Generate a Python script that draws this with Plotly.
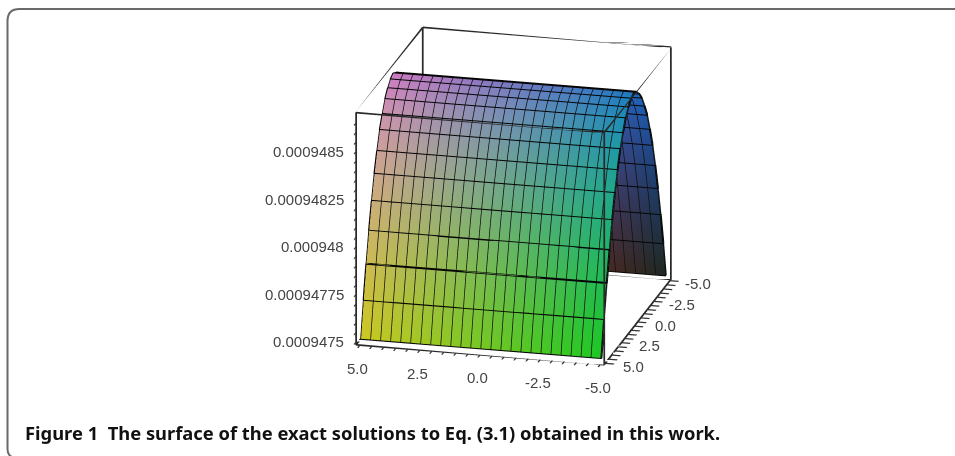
import plotly.graph_objects as go

# ---- data ----
x_vals = [5.0, 4.583, 4.167, 3.75, 3.333, 2.917, 2.5, 2.083, 1.667, 1.25, 0.833, 0.417, 0.0,
          -0.417, -0.833, -1.25, -1.667, -2.083, -2.5, -2.917, -3.333, -3.75, -4.167, -4.583, -5.0]
y_vals = [5.0, 4.583, 4.167, 3.75, 3.333, 2.917, 2.5, 2.083, 1.667, 1.25, 0.833, 0.417, 0.0,
          -0.417, -0.833, -1.25, -1.667, -2.083, -2.5, -2.917, -3.333, -3.75, -4.167, -4.583, -5.0]
z_profile = [0.00094751, 0.000947697, 0.000947868, 0.000948023, 0.000948162, 0.000948286,
             0.000948388, 0.00094848, 0.000948546, 0.000948606, 0.000948645, 0.000948673,
             0.000948687,
             0.000948673, 0.000948645, 0.000948606, 0.000948546, 0.00094848, 0.000948388,
             0.000948286, 0.000948162, 0.000948023, 0.000947868, 0.000947697, 0.00094751]
xy_tick_vals = [5.0, 4.5, 4.0, 3.5, 3.0, 2.5, 2.0, 1.5, 1.0, 0.5, 0.0, -0.5, -1.0, -1.5, -2.0,
                -2.5, -3.0, -3.5, -4.0, -4.5, -5.0]
z_tick_vals = [0.0009475, 0.00094755, 0.0009476, 0.00094765, 0.0009477, 0.00094775, 0.0009478,
               0.00094785, 0.0009479, 0.00094795, 0.000948, 0.00094805, 0.0009481, 0.00094815,
               0.0009482, 0.00094825, 0.0009483, 0.00094835, 0.0009484, 0.00094845, 0.0009485,
               0.00094855, 0.0009486, 0.00094865]
xy_label_vals = [5.0, 2.5, 0.0, -2.5, -5.0]
xy_label_text = ["5.0", "2.5", "0.0", "-2.5", "-5.0"]
z_label_vals = [0.0009475, 0.00094775, 0.000948, 0.00094825, 0.0009485]
z_label_text = ["0.0009475", "0.00094775", "0.000948", "0.00094825", "0.0009485"]
caption = "Figure 1  The surface of the exact solutions to Eq. (3.1) obtained in this work."

X_RANGE = [-5.16, 5.16]
Y_RANGE = [-5.16, 5.16]
Z_RANGE = [0.000947484, 0.000948703]

# ---- surface as a coloured mesh ----
nx, ny = len(x_vals), len(y_vals)
px, py, pz, pc = [], [], [], []
zlo, zhi = Z_RANGE
for yv, zv in zip(y_vals, z_profile):
    for xv in x_vals:
        px.append(xv); py.append(yv); pz.append(zv)
        r = 30 + 175 * (xv + 5) / 10
        g = 40 + 160 * (yv + 5) / 10
        b = 30 + 165 * (zv - zlo) / (zhi - zlo)
        pc.append(f"rgb({r:.0f},{g:.0f},{b:.0f})")
fi, fj, fk = [], [], []
for a in range(ny - 1):
    for c in range(nx - 1):
        p0 = a * nx + c
        fi += [p0, p0]; fj += [p0 + 1, p0 + 1 + nx]; fk += [p0 + 1 + nx, p0 + nx]

fig = go.Figure()
fig.add_trace(go.Mesh3d(x=px, y=py, z=pz, i=fi, j=fj, k=fk, vertexcolor=pc, flatshading=False,
                        lighting=dict(ambient=1, diffuse=0, specular=0, roughness=1, fresnel=0),
                        hoverinfo="skip", showscale=False))

# grid lines as serpentine polylines (the links run along the surface border)
gx, gy, gz = [], [], []
for n, (yv, zv) in enumerate(zip(y_vals, z_profile)):
    xs = x_vals if n % 2 == 0 else x_vals[::-1]
    gx += list(xs); gy += [yv] * nx; gz += [zv] * nx
fig.add_trace(go.Scatter3d(x=gx, y=gy, z=gz, mode="lines", line=dict(color="#050505", width=4),
                           hoverinfo="skip", showlegend=False))
gx, gy, gz = [], [], []
for n, xv in enumerate(x_vals):
    ys = y_vals if n % 2 == 0 else y_vals[::-1]
    zs = z_profile if n % 2 == 0 else z_profile[::-1]
    gx += [xv] * ny; gy += list(ys); gz += list(zs)
fig.add_trace(go.Scatter3d(x=gx, y=gy, z=gz, mode="lines", line=dict(color="#101010", width=3),
                           hoverinfo="skip", showlegend=False))

# frame box as one polyline walking all 12 edges
x0, x1 = X_RANGE; y0, y1 = Y_RANGE; z0, z1 = Z_RANGE
walk = [(x0, y0, z0), (x1, y0, z0), (x1, y1, z0), (x0, y1, z0), (x0, y0, z0),
        (x0, y0, z1), (x1, y0, z1), (x1, y0, z0), (x1, y0, z1),
        (x1, y1, z1), (x1, y1, z0), (x1, y1, z1),
        (x0, y1, z1), (x0, y1, z0), (x0, y1, z1), (x0, y0, z1)]
fig.add_trace(go.Scatter3d(x=[p[0] for p in walk], y=[p[1] for p in walk], z=[p[2] for p in walk],
                           mode="lines", line=dict(color="#2a2a2a", width=3.5),
                           hoverinfo="skip", showlegend=False))

axis_common = dict(showbackground=False, showgrid=False, zeroline=False, showline=False,
                   showspikes=False, title=dict(text=""), ticks="outside", ticklen=9,
                   tickcolor="#333333", tickwidth=3, tickmode="array", showticklabels=False)

label_font = dict(family="Liberation Sans", size=15, color="#444444")
scene_ann = []
for v, t in zip(z_label_vals, z_label_text):
    scene_ann.append(dict(x=x1, y=y1, z=v, text=t, showarrow=False, xanchor="right", yanchor="middle",
                          xshift=-10, font=label_font))
for v, t in zip(xy_label_vals, xy_label_text):
    scene_ann.append(dict(x=v, y=y1, z=z0, text=t, showarrow=False, xanchor="center", yanchor="middle",
                          xshift=-2, yshift=-23, font=label_font))
    scene_ann.append(dict(x=x0, y=v, z=z0, text=t, showarrow=False, xanchor="center", yanchor="middle",
                          xshift=28, yshift=-3, font=label_font))

S = 1.305
fig.update_layout(
    width=955, height=456, margin=dict(l=0, r=0, t=0, b=0), paper_bgcolor="white",
    showlegend=False,
    scene=dict(
        domain=dict(x=[0.18, 0.895], y=[0.14, 1.0]),
        aspectmode="manual", aspectratio=dict(x=1.0 * S, y=1.075 * S, z=0.958 * S),
        camera=dict(projection=dict(type="orthographic"), up=dict(x=0, y=0, z=1),
                    center=dict(x=0, y=0, z=0), eye=dict(x=-0.46, y=1.84, z=0.64)),
        xaxis=dict(axis_common, range=X_RANGE, tickvals=xy_tick_vals),
        yaxis=dict(axis_common, range=Y_RANGE, tickvals=xy_tick_vals),
        zaxis=dict(axis_common, range=Z_RANGE, tickvals=z_tick_vals),
        annotations=scene_ann,
    ),
    shapes=[dict(type="path", xref="paper", yref="paper", layer="below",
                 path=f"M {12/955},{1-457/456} Q {7.5/955},{1-455/456} {7.5/955},{1-449/456} "
                      f"L {7.5/955},{1-21/456} Q {7.5/955},{1-9/456} {19.5/955},{1-9/456} "
                      f"L {975/955},{1-9/456}",
                 line=dict(color="#6a6a6a", width=2), fillcolor="rgba(0,0,0,0)")],
    annotations=[dict(text=f"<b>{caption}</b>", xref="paper", yref="paper", x=25 / 955, y=1 - 432 / 456,
                      xanchor="left", yanchor="middle", showarrow=False, xshift=-2,
                      font=dict(family="Noto Sans", size=18.35, color="#111111"))],
)
fig.write_html("out.html", config=dict(displayModeBar=False),
               post_script="document.body.style.margin='0';")
